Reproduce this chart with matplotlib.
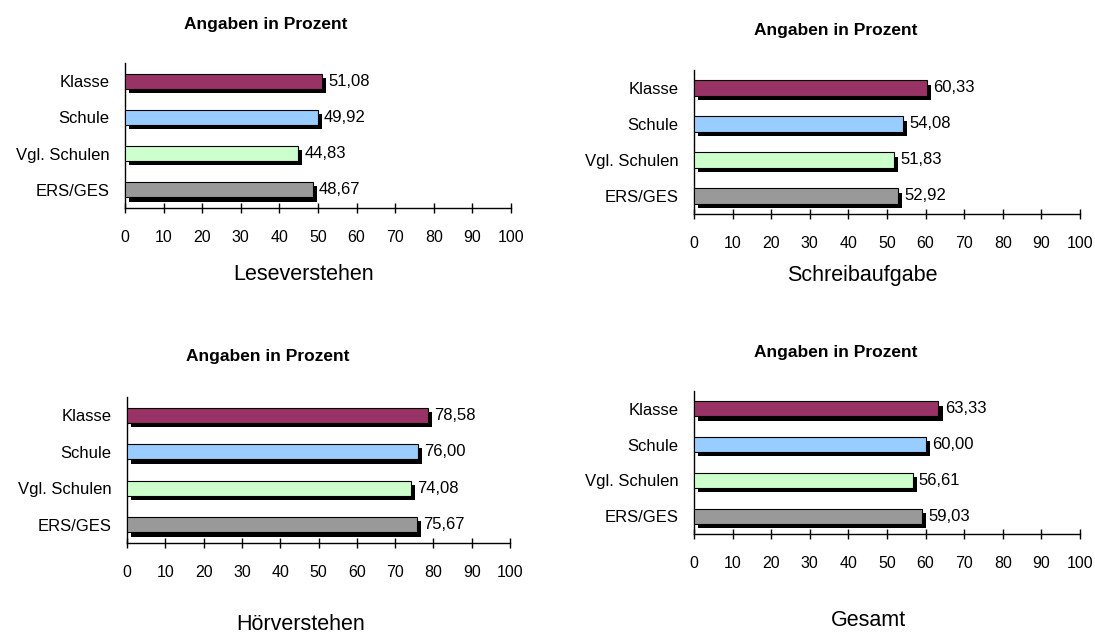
import matplotlib
matplotlib.use("Agg")
import matplotlib.pyplot as plt
import matplotlib.patheffects as pe

plt.rcParams["font.family"] = ["Liberation Sans", "DejaVu Sans"]

W, H = 1095, 635
DPI = 100

categories = ["Klasse", "Schule", "Vgl. Schulen", "ERS/GES"]
colors = ["#993366", "#99CCFF", "#CCFFCC", "#999999"]
xticks = [0, 10, 20, 30, 40, 50, 60, 70, 80, 90, 100]

title_text = "Angaben in Prozent"

leseverstehen = [51.08, 49.92, 44.83, 48.67]
schreibaufgabe = [60.33, 54.08, 51.83, 52.92]
hoerverstehen = [78.58, 76.00, 74.08, 75.67]
gesamt = [63.33, 60.00, 56.61, 59.03]

panels = [
    # values, label, (x0, x100, y_top, y_axis), title (x, y), xlabel (x, y)
    (leseverstehen, "Leseverstehen", (125, 511, 63, 208), (266, 25), (304, 274)),
    (schreibaufgabe, "Schreibaufgabe", (694, 1080, 70, 214), (836, 31), (862, 276)),
    (hoerverstehen, "Hörverstehen", (127, 510, 397, 543), (268, 357), (301, 625)),
    (gesamt, "Gesamt", (694, 1080, 391, 534), (836, 353), (868, 620)),
]

fig = plt.figure(figsize=(W / DPI, H / DPI), dpi=DPI)
fig.patch.set_facecolor("white")

shadow = [pe.SimplePatchShadow(offset=(3.0, -3.0), shadow_rgbFace="black", alpha=1.0),
          pe.Normal()]

for values, xlabel, (x0, x1, yt, yb), (tx, ty), (lx, ly) in panels:
    ax = fig.add_axes([x0 / W, (H - yb) / H, (x1 - x0) / W, (yb - yt) / H])
    ypos = list(range(len(categories)))
    bars = ax.barh(ypos, values, height=0.42, color=colors,
                   edgecolor="black", linewidth=0.8, zorder=3)
    for b in bars:
        b.set_path_effects(shadow)
    for y, v in zip(ypos, values):
        ax.annotate(f"{v:.2f}".replace(".", ","), xy=(v, y), xytext=(4.5, 0),
                    textcoords="offset points", va="center", ha="left",
                    fontsize=12, color="black")
    ax.set_xlim(0, 100)
    ax.set_ylim(len(categories) - 0.5, -0.5)
    ax.set_yticks(ypos)
    ax.set_yticklabels(categories, fontsize=12)
    ax.set_xticks(xticks)
    ax.set_xticklabels([str(t) for t in xticks], fontsize=11.5)
    ax.tick_params(axis="x", direction="inout", length=7, width=1, pad=12)
    ax.tick_params(axis="y", length=0, pad=11)
    for side in ("top", "right"):
        ax.spines[side].set_visible(False)
    for side in ("left", "bottom"):
        ax.spines[side].set_linewidth(1)
    ax.set_facecolor("none")
    fig.text(tx / W, 1 - ty / H, title_text, ha="center", va="center",
             fontsize=12.5, fontweight="bold")
    fig.text(lx / W, 1 - ly / H, xlabel, ha="center", va="center", fontsize=15.5)

fig.savefig("out.png", dpi=DPI, facecolor="white")
